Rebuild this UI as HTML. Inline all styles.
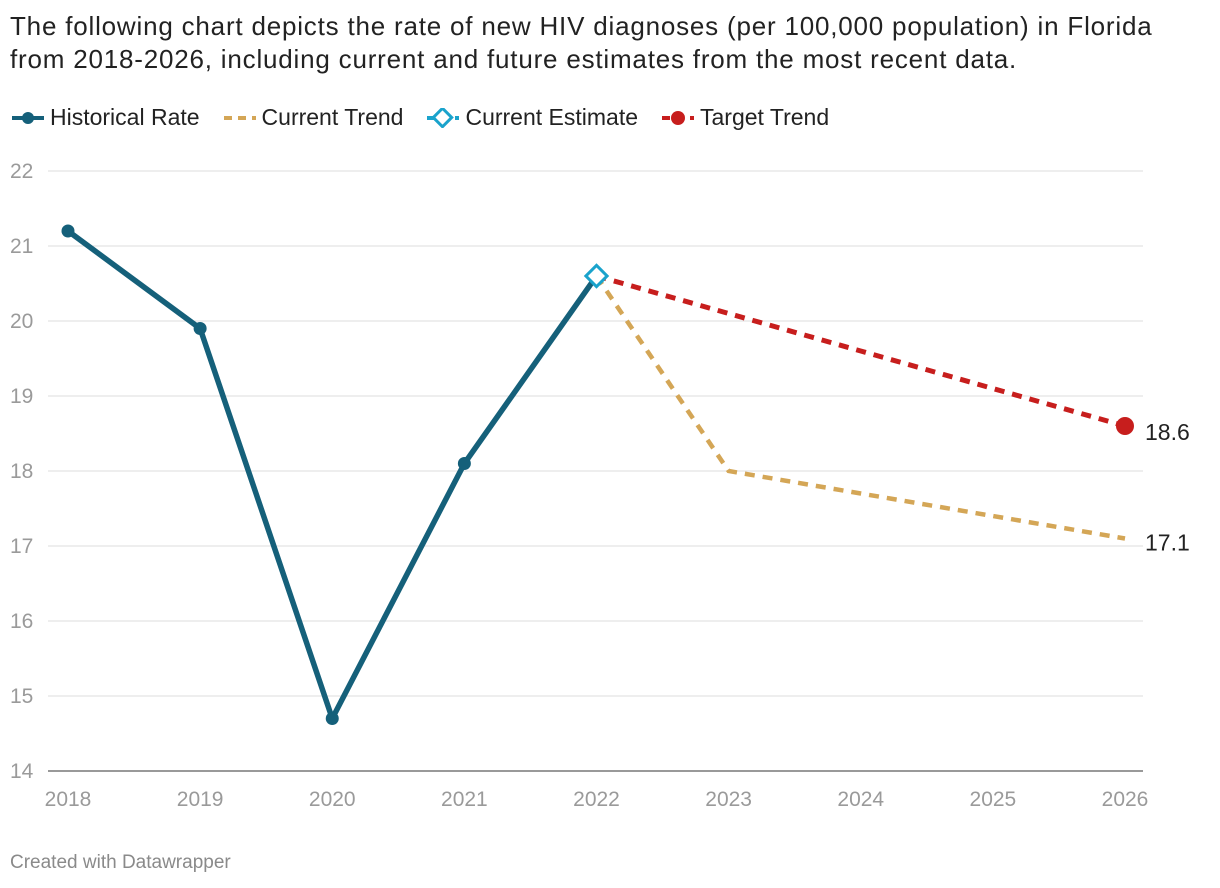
<!DOCTYPE html>
<html><head><meta charset="utf-8"><style>
body{margin:0;background:#fff;font-family:"Liberation Sans",Roboto,sans-serif;}
#wrap{position:relative;width:1220px;height:888px;overflow:hidden}
.title{position:absolute;left:10px;top:10px;font-size:26px;letter-spacing:0.8px;line-height:33px;color:#222;width:1210px;white-space:nowrap}
.legend{position:absolute;left:10px;top:104px;font-size:23px;color:#222;display:flex;gap:0}
.li{display:flex;align-items:center;margin-right:22px}
.li svg{margin-right:4px}
.foot{position:absolute;left:10px;top:852px;font-size:19px;color:#8a8a8a}
</style></head><body><div id="wrap">
<div class="title">The following chart depicts the rate of new HIV diagnoses (per 100,000 population) in Florida<br>from 2018-2026, including current and future estimates from the most recent data.</div>
<div class="legend">
<div class="li"><svg width="36" height="20"><line x1="2" y1="10" x2="34" y2="10" stroke="#15607a" stroke-width="4"/><circle cx="18" cy="10" r="6" fill="#15607a"/></svg>Historical Rate</div>
<div class="li"><svg width="36" height="20"><line x1="2" y1="10" x2="34" y2="10" stroke="#d4a656" stroke-width="4" stroke-dasharray="8,6"/></svg>Current Trend</div>
<div class="li"><svg width="36" height="20"><line x1="2" y1="10" x2="34" y2="10" stroke="#1aa3cc" stroke-width="4" stroke-dasharray="8,6"/><rect x="11" y="3" width="13" height="13" transform="rotate(45 17.5 9.5)" fill="#fff" stroke="#1aa3cc" stroke-width="3"/></svg>Current Estimate</div>
<div class="li"><svg width="36" height="20"><line x1="2" y1="10" x2="34" y2="10" stroke="#c71e1d" stroke-width="4" stroke-dasharray="8,6"/><circle cx="18" cy="10" r="7" fill="#c71e1d"/></svg>Target Trend</div>
</div>
<svg id="plot" width="1220" height="888" style="position:absolute;left:0;top:0"></svg>
<div class="foot">Created with Datawrapper</div>
</div>
<script>
const years=[2018,2019,2020,2021,2022,2023,2024,2025,2026];
const histYears=[2018,2019,2020,2021,2022];
const histVals=[21.2,19.9,14.7,18.1,20.6];
const curYears=[2022,2023,2024,2025,2026];
const curVals=[20.6,18.0,17.7,17.4,17.1];
const tgtYears=[2022,2023,2024,2025,2026];
const tgtVals=[20.6,20.1,19.6,19.1,18.6];
const yTicks=[14,15,16,17,18,19,20,21,22];
const estYear=2022, estVal=20.6;
const NS="http://www.w3.org/2000/svg",svg=document.getElementById('plot');
const x=v=>68+(v-2018)*(1125-68)/8, y=v=>771-(v-14)*75;
function mk(t,a,p){const e=document.createElementNS(NS,t);for(const k in a)e.setAttribute(k,a[k]);(p||svg).appendChild(e);return e;}
yTicks.forEach(t=>{
 const l=mk('line',{x1:48,x2:1143,y1:y(t),y2:y(t),stroke:t==14?'#333':'#dcdcdc','stroke-width':1});
 
 
 const tx=mk('text',{x:10,y:y(t)+7,'font-size':21,fill:'#9a9a9a','font-family':'Liberation Sans,sans-serif'});tx.textContent=t;
 
 
});
years.forEach(yr=>{
 const tx=mk('text',{x:x(yr),y:806,'font-size':21,fill:'#9a9a9a','text-anchor':'middle','font-family':'Liberation Sans,sans-serif'});tx.textContent=yr;
 
 
});
function path(xs,vs){return xs.map((a,i)=>(i?'L':'M')+x(a)+','+y(vs[i])).join(' ');}
const cp=mk('path',{d:path(curYears,curVals),fill:'none',stroke:'#d4a656','stroke-width':4.5,'stroke-dasharray':'10,8'});


const tp=mk('path',{d:path(tgtYears,tgtVals),fill:'none',stroke:'#c71e1d','stroke-width':5,'stroke-dasharray':'10,8'});


const hp=mk('path',{d:path(histYears,histVals),fill:'none',stroke:'#15607a','stroke-width':5.5,'stroke-linejoin':'round'});


histYears.slice(0,4).forEach((yr,i)=>{
 const c=mk('circle',{cx:x(yr),cy:y(histVals[i]),r:6.5,fill:'#15607a'});
 
 
});
const r=mk('rect',{x:x(estYear)-7.5,y:y(estVal)-7.5,width:15,height:15,fill:'#fff',stroke:'#1aa3cc','stroke-width':3,transform:`rotate(45 ${x(estYear)} ${y(estVal)})`});


const li=tgtYears.length-1;
const tc=mk('circle',{cx:x(tgtYears[li]),cy:y(tgtVals[li]),r:9,fill:'#c71e1d'});


const l1=mk('text',{x:x(tgtYears[li])+20,y:y(tgtVals[li])+14,'font-size':23,fill:'#222','font-family':'Liberation Sans,sans-serif'});l1.textContent=tgtVals[li];


const ci=curYears.length-1;
const l2=mk('text',{x:x(curYears[ci])+20,y:y(curVals[ci])+12,'font-size':23,fill:'#222','font-family':'Liberation Sans,sans-serif'});l2.textContent=curVals[ci];


</script></body></html>
